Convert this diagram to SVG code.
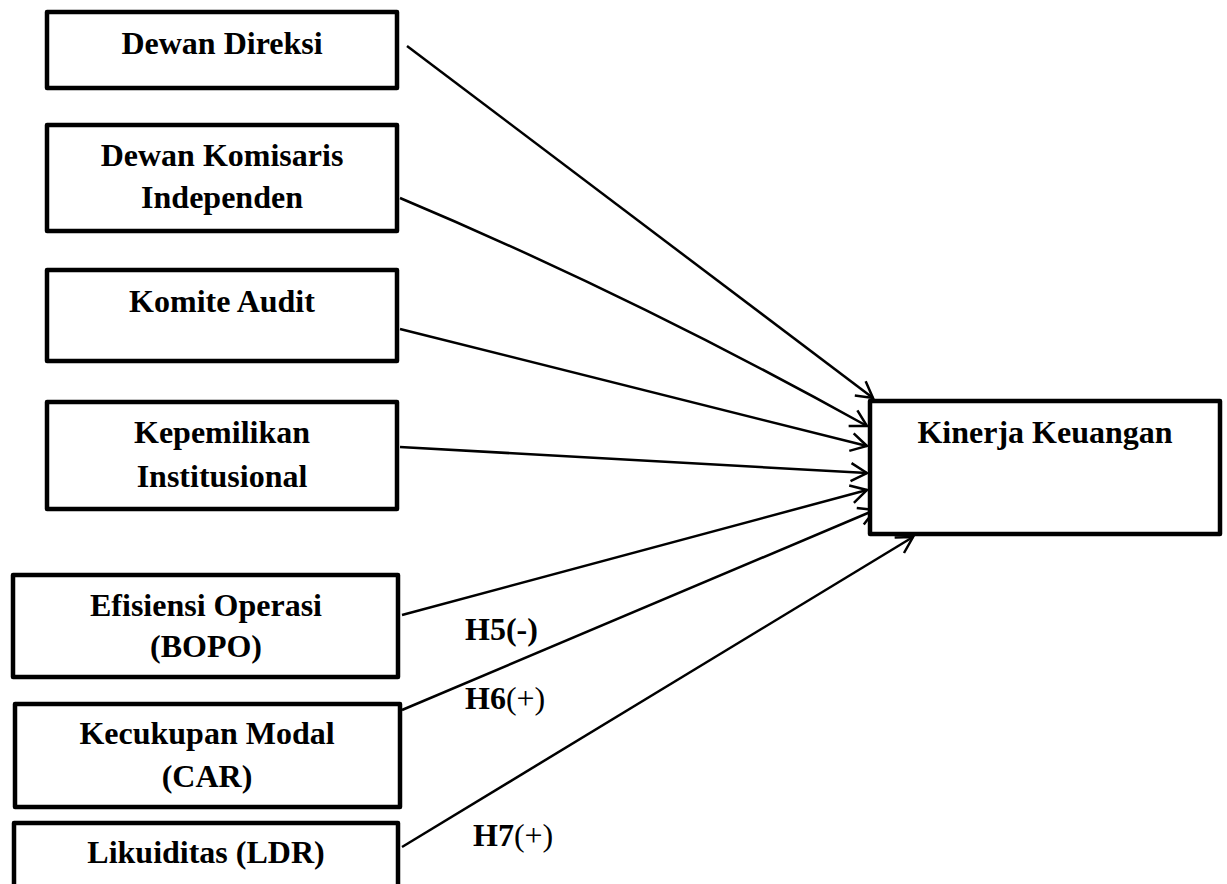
<svg xmlns="http://www.w3.org/2000/svg" width="1227" height="884" viewBox="0 0 1227 884">
<style>
.box{fill:#fff;stroke:#000;stroke-width:4.5;stroke-linejoin:round}
.t{font-family:"Liberation Serif","Times New Roman",serif;font-weight:bold;font-size:32px;fill:#000;text-anchor:middle}
.h{font-family:"Liberation Serif","Times New Roman",serif;font-weight:bold;font-size:32px;fill:#000}
.n{font-weight:normal}
.c{fill:none;stroke:#000;stroke-width:2.5}
</style>
<defs>
<marker id="arr" markerUnits="userSpaceOnUse" markerWidth="40" markerHeight="40" refX="0" refY="0" viewBox="-20 -20 40 40" orient="auto" overflow="visible">
<path d="M-16,-9 L0,0 L-16,9" fill="none" stroke="#000" stroke-width="2.5"/>
</marker>
</defs>
<rect width="1227" height="884" fill="#fff"/>
<g id="connectors">
<path class="c" d="M407,46 L873,398" marker-end="url(#arr)"/>
<path class="c" d="M400,198 Q633,296 867,426" marker-end="url(#arr)"/>
<path class="c" d="M400,329 L867,446" marker-end="url(#arr)"/>
<path class="c" d="M400,447 L867,473" marker-end="url(#arr)"/>
<path class="c" d="M402,615 L867,490" marker-end="url(#arr)"/>
<path class="c" d="M402,710 L875,510" marker-end="url(#arr)"/>
<path class="c" d="M402,847 L913,537" marker-end="url(#arr)"/>
</g>
<g id="n1"><rect class="box" x="47" y="12" width="350" height="76"/><text class="t" x="222" y="54">Dewan Direksi</text></g>
<g id="n2"><rect class="box" x="47" y="125" width="350" height="106"/><text class="t" x="222" y="166">Dewan Komisaris</text><text class="t" x="222" y="208">Independen</text></g>
<g id="n3"><rect class="box" x="47" y="270" width="350" height="91"/><text class="t" x="222" y="312">Komite Audit</text></g>
<g id="n4"><rect class="box" x="47" y="402" width="350" height="107"/><text class="t" x="222" y="443">Kepemilikan</text><text class="t" x="222" y="487">Institusional</text></g>
<g id="n5"><rect class="box" x="13" y="575" width="385" height="102"/><text class="t" x="206" y="616">Efisiensi Operasi</text><text class="t" x="206" y="657">(BOPO)</text></g>
<g id="n6"><rect class="box" x="15" y="704" width="385" height="103"/><text class="t" x="207" y="744">Kecukupan Modal</text><text class="t" x="207" y="787">(CAR)</text></g>
<g id="n7"><rect class="box" x="14" y="823" width="384" height="80"/><text class="t" x="206" y="863">Likuiditas (LDR)</text></g>
<g id="n8"><rect class="box" x="870" y="401" width="350" height="133"/><text class="t" x="1045" y="443">Kinerja Keuangan</text></g>
<g id="labels">
<text class="h" x="465" y="640">H5(-)</text>
<text class="h" x="465" y="709">H6<tspan class="n">(+)</tspan></text>
<text class="h" x="473" y="846">H7<tspan class="n">(+)</tspan></text>
</g>
</svg>
